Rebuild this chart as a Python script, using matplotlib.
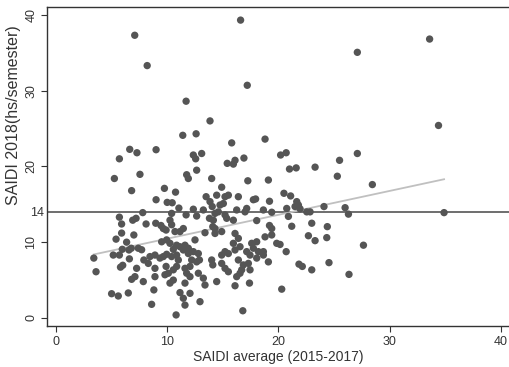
import matplotlib
matplotlib.use("Agg")
import matplotlib.pyplot as plt
import numpy as np

# SAIDI average (2015-2017) and SAIDI 2018 values
saidi_avg = [
    # low x
    5.25, 6.8, 5.7, 6.9, 5.9, 5.9, 7.0, 5.4, 6.35, 5.96, 6.56, 6.77, 3.4, 5.15, 5.7, 6.6,
    5.8, 6.0, 3.6, 6.8, 5.0, 5.6, 6.5,
    # x 7-14
    11.75, 11.9, 12.65, 14.0, 7.55, 9.75, 10.75, 9.0, 10.0, 10.45, 13.5, 14.05,
    11.05, 12.35, 13.25, 10.4, 11.7, 12.65, 13.8, 7.8, 7.2, 8.1, 8.97, 9.44, 9.9, 9.65,
    10.25, 10.4, 11.45, 10.7, 11.15, 13.4, 14.1, 12.5, 9.5, 9.95, 10.25, 10.85, 11.15,
    11.6, 11.9, 10.55, 7.4, 7.7, 8.45, 8.9, 9.35, 9.65, 9.95, 10.4, 10.85, 11.45, 11.9,
    12.35, 12.8, 12.2, 12.65, 12.05, 11.6, 12.9, 11.0, 10.85, 10.55, 9.9, 10.1, 9.8,
    8.9, 8.9, 7.25, 7.1, 7.85, 10.55, 10.25, 11.75, 12.05, 12.8, 13.25, 13.4, 11.6,
    8.8, 11.15, 12.05, 11.45, 11.6, 12.95, 8.6, 10.8, 14.0, 14.1, 7.9, 8.3,
    # upper part
    7.08, 8.2, 11.7, 13.85, 11.4, 12.6, 6.63, 7.28, 9.0, 5.7, 12.35, 12.56, 13.1,
    # x 14-21.5
    15.95, 21.0, 21.6, 17.25, 19.1, 14.9, 14.45, 15.2, 15.5, 16.4, 17.75, 17.95, 19.2,
    20.5, 21.1, 14.75, 15.05, 13.85, 14.6, 14.3, 15.2, 16.25, 17.15, 17.0, 18.65, 19.4,
    20.75, 21.5, 21.8, 20.9, 15.35, 15.95, 14.15, 18.05, 19.2, 19.4, 21.2, 14.3, 14.3,
    14.9, 16.1, 16.4, 18.8, 19.4, 15.95, 16.55, 16.1, 17.6, 18.05, 17.75, 18.2, 19.85,
    20.15, 17.15, 17.45, 18.65, 20.7, 15.2, 15.5, 14.9, 16.4, 18.05, 18.65, 19.1, 14.9,
    15.2, 15.5, 16.85, 17.3, 16.7, 16.55, 16.25, 17.45, 14.45, 16.1, 17.4, 20.3, 16.8,
    # x > 21.5
    23.3, 25.3, 28.45, 21.65, 21.95, 22.55, 22.85, 24.1, 26.0, 26.3, 23.0, 24.4, 22.7,
    23.3, 24.35, 27.65, 21.85, 22.15, 23.0, 24.55, 26.35, 34.9,
    # top
    16.6, 33.6, 27.1, 17.2, 34.4, 18.8, 15.8, 16.9, 16.1, 15.4, 20.2, 20.7, 25.5, 27.1,
]
saidi_2018 = [
    18.4, 16.8, 13.3, 12.9, 12.4, 11.2, 10.95, 10.4, 10.0, 9.06, 8.97, 9.2, 7.9, 8.3, 8.3, 7.8,
    6.7, 6.95, 6.1, 5.1, 3.2, 2.9, 3.3,
    18.9, 18.4, 19.5, 18.4, 18.95, 17.1, 16.6, 15.6, 15.25, 15.2, 16.0, 14.7,
    14.5, 14.35, 14.25, 13.8, 13.6, 13.45, 13.15, 13.9, 13.15, 12.4, 12.5, 12.2, 11.6, 11.8,
    12.9, 12.3, 11.8, 11.4, 11.4, 11.25, 12.05, 10.3, 10.05, 10.3, 9.85, 9.6, 9.4,
    9.6, 9.2, 9.05, 9.2, 9.0, 8.1, 8.3, 7.9, 8.1, 8.4, 8.1, 8.3, 8.97, 8.5,
    8.75, 8.5, 7.65, 7.4, 6.8, 6.55, 7.65, 7.65, 6.8, 6.35, 6.8, 5.9, 5.7,
    6.55, 5.45, 6.55, 5.45, 4.8, 5.0, 4.6, 5.9, 5.45, 5.9, 5.25, 4.35, 4.6,
    3.7, 3.35, 3.25, 2.6, 1.7, 2.15, 1.8, 0.4, 7.65, 7.0, 7.65, 7.2,
    37.3, 33.3, 28.6, 26.0, 24.1, 24.3, 22.25, 21.8, 22.2, 21.0, 21.5, 21.0, 21.7,
    20.3, 19.65, 19.8, 18.1, 18.2, 17.25, 16.2, 16.0, 16.2, 16.0, 15.6, 15.7, 15.4,
    16.45, 16.1, 14.9, 15.1, 15.35, 14.0, 13.8, 13.6, 14.25, 14.45, 14.0, 14.25, 13.95,
    14.45, 14.7, 14.9, 13.4, 13.15, 12.9, 12.9, 12.85, 12.2, 11.8, 12.1, 11.8, 11.15,
    11.4, 11.15, 10.5, 10.7, 10.95, 9.85, 9.4, 8.97, 9.85, 10.05, 9.2, 8.75, 9.85,
    9.7, 8.75, 8.3, 8.75, 8.75, 8.75, 8.5, 8.3, 7.65, 7.9, 8.3, 7.4, 7.2,
    6.55, 6.1, 7.0, 7.2, 6.35, 5.9, 5.45, 6.35, 4.8, 4.25, 4.6, 3.8, 0.95,
    19.9, 18.7, 17.6, 15.35, 14.4, 14.0, 14.0, 14.7, 14.55, 13.7, 12.5, 12.05, 10.85,
    10.2, 10.6, 9.6, 7.1, 6.8, 6.35, 7.3, 5.75, 13.9,
    39.3, 36.8, 35.05, 30.7, 25.4, 23.6, 23.1, 21.1, 20.8, 20.4, 21.5, 21.8, 20.8, 21.7,
]

# fitted line
fit_intercept = 7.31
fit_slope = 0.315
reference_level = 14

x_ticks = [0, 10, 20, 30, 40]
y_ticks = [0, 10, 20, 30, 40]

plt.rcParams['font.family'] = ['Liberation Sans', 'DejaVu Sans']

fig = plt.figure(figsize=(5.09, 3.67), dpi=100)
ax = fig.add_axes([47/509, 41/367, 462/509, 319/367])

x = np.array(saidi_avg)
y = np.array(saidi_2018)

ax.scatter(x, y, s=28, color='#555555', edgecolors='none', zorder=3)

xf = np.array([x.min(), x.max()])
ax.plot(xf, fit_intercept + fit_slope * xf, color='#c0c0c0', lw=1.3, zorder=2)
ax.axhline(reference_level, color='#6e6e6e', lw=1.4, zorder=1)

ax.set_xlim(-0.81, 40.74)
ax.set_ylim(-1.06, 41.03)

ax.set_xticks(x_ticks)
ax.set_xticklabels([str(v) for v in x_ticks])
ax.set_yticks(y_ticks)
ax.set_yticklabels([str(v) for v in y_ticks], rotation=90, va='center')
ax.set_yticks([reference_level], minor=True)
ax.set_yticklabels([str(reference_level)], minor=True)
ax.tick_params(axis='y', which='minor', length=0, pad=2, labelsize=9, colors='#333333')
ax.tick_params(axis='both', which='major', direction='out', length=4, width=0.8,
               labelsize=9, colors='#333333', pad=3)

for s in ['left', 'bottom', 'top']:
    ax.spines[s].set_color('#333333')
    ax.spines[s].set_linewidth(1.0)
ax.spines['right'].set_visible(False)

ax.set_xlabel('SAIDI average (2015-2017)', fontsize=10, color='#333333', labelpad=2)
ax.set_ylabel('SAIDI 2018(hs/semester)', fontsize=11.5, color='#333333')
ax.yaxis.set_label_coords(-0.057, 0.66)

fig.savefig('out.png', dpi=100)
